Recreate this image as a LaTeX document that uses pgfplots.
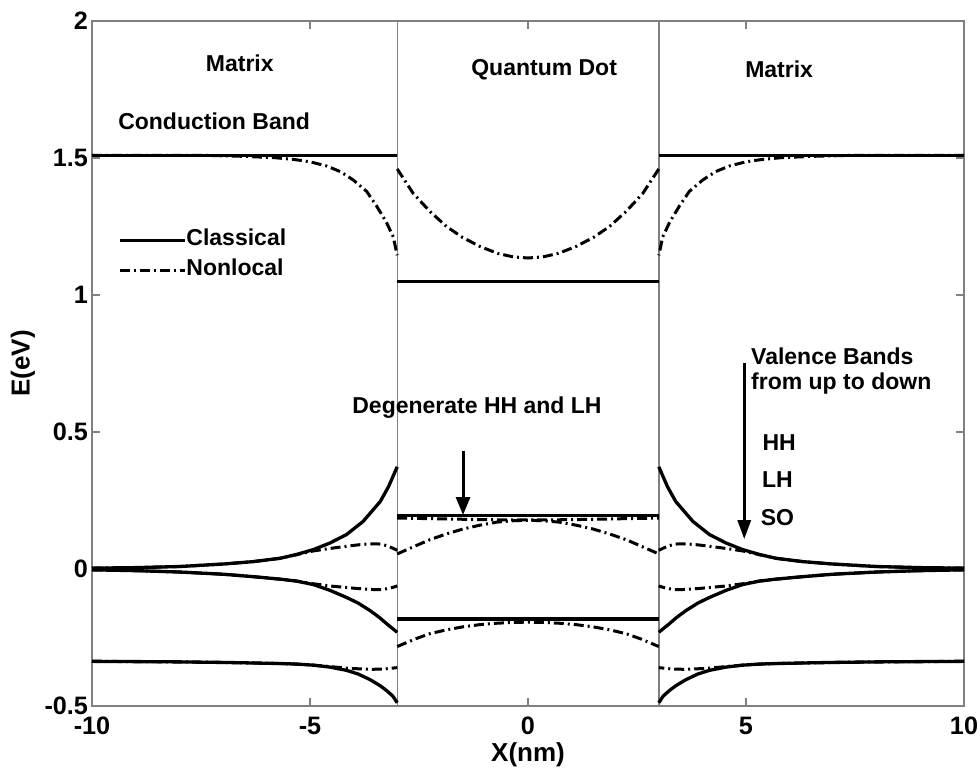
\documentclass[border=0pt]{standalone}
\usepackage{fontspec}
\setmainfont{Liberation Sans}
\usepackage{pgfplots}
\pgfplotsset{compat=1.18}
\usetikzlibrary{arrows.meta}

\pgfplotsset{
  classical/.style={black, line width=1.65pt, line join=round},
  nonlocal/.style={black, line width=1.5pt, dash pattern=on 5pt off 2pt on 1pt off 2pt},
}
\newcommand{\lbl}{\bfseries\fontsize{11.5}{13}\selectfont}

\begin{document}
\begin{tikzpicture}
\useasboundingbox (-46pt,-32.5pt) rectangle (443.5pt,353pt);
\begin{axis}[
  scale only axis, width=436pt, height=342.5pt,
  xmin=-10, xmax=10, ymin=-0.5, ymax=2,
  xtick={-10,-5,0,5,10}, ytick={-0.5,0,0.5,1,1.5,2},
  tick align=inside, major tick length=4pt,
  axis line style={draw=gray, line width=0.7pt},
  tick style={draw=gray, line width=0.6pt},
  ticklabel style={font=\bfseries\fontsize{12.6}{14}\selectfont},
  /pgf/number format/assume math mode=true,
  xticklabel style={yshift=-2pt},
  yticklabel style={xshift=1.5pt},
  xlabel={X(nm)}, ylabel={E(eV)},
  label style={font=\bfseries\fontsize{13}{15}\selectfont},
  xlabel style={at={(axis description cs:0.5,-0.0715)}, anchor=center},
  ylabel style={at={(axis description cs:-0.0791,0.5)}, anchor=center},
  clip=false,
  legend style={draw=none, fill=none, at={(axis cs:-9.40,1.145)}, anchor=west,
    inner sep=0pt, outer sep=0pt, row sep=3pt,
    font=\lbl, nodes={inner sep=0pt, text height=8.5pt, text depth=3.5pt},
    /tikz/every even column/.append style={column sep=1.5pt}},
  legend cell align=left,
  legend image code/.code={\draw[#1] (0pt,0pt) -- (32.5pt,0pt);},
]
\addlegendimage{classical}
\addlegendentry{Classical}
\addlegendimage{nonlocal}
\addlegendentry{Nonlocal}

% region boundaries of the dot
\addplot[forget plot, draw=gray, line width=0.7pt] coordinates {(-3,-0.5) (-3,2)};
\addplot[forget plot, draw=gray, line width=0.7pt] coordinates {(3,-0.5) (3,2)};

% ---------- classical model ----------
% conduction band
\addplot[forget plot, classical] coordinates {(-10,1.51) (-3,1.51)};
\addplot[forget plot, classical] coordinates {(-3,1.05) (3,1.05)};
\addplot[forget plot, classical] coordinates {(3,1.51) (10,1.51)};
% valence bands inside the dot
\addplot[forget plot, classical] coordinates {(-3,0.195) (3,0.195)};
\addplot[forget plot, classical] coordinates {(-3,-0.183) (3,-0.183)};
% valence bands in the left matrix
\addplot[forget plot, classical] coordinates {
  (-10,0.003) (-9,0.005) (-8,0.009) (-7,0.018) (-6.3,0.027) (-5.69,0.039)
  (-5.31,0.053) (-4.92,0.071) (-4.54,0.095) (-4.16,0.126) (-3.78,0.174)
  (-3.39,0.246) (-3.2,0.300) (-3.0,0.373)};
\addplot[forget plot, classical] coordinates {
  (-10,-0.003) (-9,-0.006) (-8,-0.011) (-7,-0.019) (-6.3,-0.028) (-5.69,-0.037)
  (-5.31,-0.044) (-4.92,-0.057) (-4.54,-0.078) (-4.16,-0.104) (-3.9,-0.124)
  (-3.62,-0.152) (-3.4,-0.178) (-3.24,-0.200) (-3.0,-0.231)};
\addplot[forget plot, classical] coordinates {
  (-10,-0.337) (-8,-0.339) (-7,-0.341) (-6.3,-0.343) (-5.69,-0.345)
  (-5.31,-0.347) (-4.92,-0.351) (-4.54,-0.358) (-4.16,-0.370) (-3.9,-0.383)
  (-3.62,-0.404) (-3.4,-0.425) (-3.24,-0.444) (-3.1,-0.464) (-3.0,-0.488)};
% valence bands in the right matrix
\addplot[forget plot, classical] coordinates {
  (10,0.003) (9,0.005) (8,0.009) (7,0.018) (6.3,0.027) (5.69,0.039)
  (5.31,0.053) (4.92,0.071) (4.54,0.095) (4.16,0.126) (3.78,0.174)
  (3.39,0.246) (3.2,0.300) (3.0,0.373)};
\addplot[forget plot, classical] coordinates {
  (10,-0.003) (9,-0.006) (8,-0.011) (7,-0.019) (6.3,-0.028) (5.69,-0.037)
  (5.31,-0.044) (4.92,-0.057) (4.54,-0.078) (4.16,-0.104) (3.9,-0.124)
  (3.62,-0.152) (3.4,-0.178) (3.24,-0.200) (3.0,-0.231)};
\addplot[forget plot, classical] coordinates {
  (10,-0.337) (8,-0.339) (7,-0.341) (6.3,-0.343) (5.69,-0.345)
  (5.31,-0.347) (4.92,-0.351) (4.54,-0.358) (4.16,-0.370) (3.9,-0.383)
  (3.62,-0.404) (3.4,-0.425) (3.24,-0.444) (3.1,-0.464) (3.0,-0.488)};

% ---------- nonlocal model ----------
% conduction band
\addplot[forget plot, nonlocal] coordinates {
  (-10,1.510) (-7.5,1.510) (-6.5,1.506) (-5.8,1.501) (-5.38,1.495) (-5.0,1.486)
  (-4.62,1.471) (-4.3,1.450) (-4.01,1.420) (-3.7,1.378) (-3.47,1.324)
  (-3.25,1.266) (-3.09,1.212) (-3.0,1.145)};
\addplot[forget plot, nonlocal] coordinates {
  (-3,1.460) (-2.63,1.370) (-2.25,1.305) (-1.87,1.250) (-1.5,1.210) (-1.1,1.177)
  (-0.7,1.152) (-0.34,1.139) (0,1.135) (0.34,1.139) (0.7,1.152) (1.1,1.177)
  (1.5,1.210) (1.87,1.250) (2.25,1.305) (2.63,1.370) (3,1.460)};
\addplot[forget plot, nonlocal] coordinates {
  (10,1.510) (7.5,1.510) (6.5,1.506) (5.8,1.501) (5.38,1.495) (5.0,1.486)
  (4.62,1.471) (4.3,1.450) (4.01,1.420) (3.7,1.378) (3.47,1.324)
  (3.25,1.266) (3.09,1.212) (3.0,1.145)};
% valence bands inside the dot
\addplot[forget plot, nonlocal] coordinates {
  (-3,0.186) (-2,0.183) (-1,0.180) (0,0.179) (1,0.180) (2,0.183) (3,0.186)};
\addplot[forget plot, nonlocal] coordinates {
  (-3,0.055) (-2.6,0.083) (-2.25,0.107) (-1.87,0.128) (-1.49,0.146) (-1.1,0.160)
  (-0.72,0.171) (-0.35,0.176) (0,0.178) (0.35,0.176) (0.72,0.171) (1.1,0.160)
  (1.49,0.146) (1.87,0.128) (2.25,0.107) (2.6,0.083) (3,0.055)};
\addplot[forget plot, nonlocal] coordinates {
  (-3,-0.283) (-2.6,-0.256) (-2.25,-0.236) (-1.87,-0.222) (-1.49,-0.211)
  (-1.1,-0.203) (-0.72,-0.198) (-0.35,-0.195) (0,-0.194) (0.35,-0.195)
  (0.72,-0.198) (1.1,-0.203) (1.49,-0.211) (1.87,-0.222) (2.25,-0.236)
  (2.6,-0.256) (3,-0.283)};
% valence bands in the left matrix
\addplot[forget plot, nonlocal] coordinates {
  (-10,0.003) (-9,0.005) (-8,0.009) (-7,0.018) (-6.3,0.027) (-5.69,0.039)
  (-5.31,0.052) (-4.92,0.066) (-4.54,0.075) (-4.16,0.083) (-3.9,0.088)
  (-3.62,0.092) (-3.45,0.092) (-3.32,0.089) (-3.2,0.083) (-3.09,0.075) (-3.0,0.068)};
\addplot[forget plot, nonlocal] coordinates {
  (-10,-0.003) (-9,-0.006) (-8,-0.011) (-7,-0.019) (-6.3,-0.028) (-5.69,-0.037)
  (-5.31,-0.044) (-4.92,-0.054) (-4.54,-0.062) (-4.2,-0.067) (-3.93,-0.071)
  (-3.55,-0.075) (-3.35,-0.075) (-3.24,-0.072) (-3.1,-0.067) (-3.0,-0.062)};
\addplot[forget plot, nonlocal] coordinates {
  (-10,-0.337) (-8,-0.339) (-7,-0.341) (-6.3,-0.343) (-5.69,-0.345)
  (-5.31,-0.347) (-4.92,-0.351) (-4.54,-0.356) (-4.16,-0.362) (-3.8,-0.365)
  (-3.55,-0.366) (-3.3,-0.365) (-3.0,-0.360)};
% valence bands in the right matrix
\addplot[forget plot, nonlocal] coordinates {
  (10,0.003) (9,0.005) (8,0.009) (7,0.018) (6.3,0.027) (5.69,0.039)
  (5.31,0.052) (4.92,0.066) (4.54,0.075) (4.16,0.083) (3.9,0.088)
  (3.62,0.092) (3.45,0.092) (3.32,0.089) (3.2,0.083) (3.09,0.075) (3.0,0.068)};
\addplot[forget plot, nonlocal] coordinates {
  (10,-0.003) (9,-0.006) (8,-0.011) (7,-0.019) (6.3,-0.028) (5.69,-0.037)
  (5.31,-0.044) (4.92,-0.054) (4.54,-0.062) (4.2,-0.067) (3.93,-0.071)
  (3.55,-0.075) (3.35,-0.075) (3.24,-0.072) (3.1,-0.067) (3.0,-0.062)};
\addplot[forget plot, nonlocal] coordinates {
  (10,-0.337) (8,-0.339) (7,-0.341) (6.3,-0.343) (5.69,-0.345)
  (5.31,-0.347) (4.92,-0.351) (4.54,-0.356) (4.16,-0.362) (3.8,-0.365)
  (3.55,-0.366) (3.3,-0.365) (3.0,-0.360)};

% ---------- annotations ----------
\node[font=\lbl] at (axis cs:-6.61,1.844) {Matrix};
\node[font=\lbl] at (axis cs:0.37,1.822) {Quantum Dot};
\node[font=\lbl] at (axis cs:5.76,1.822) {Matrix};
\node[font=\lbl] at (axis cs:-7.20,1.634) {Conduction Band};
\node[font=\lbl] at (axis cs:-1.17,0.590) {Degenerate HH and LH};
\draw[-{Triangle[width=7pt,length=9pt]}, line width=1.5pt]
  (axis cs:-1.49,0.431) -- (axis cs:-1.49,0.197);
\node[font=\lbl, anchor=west, inner sep=0pt] at (axis cs:5.11,0.775) {Valence Bands};
\node[font=\lbl, anchor=west, inner sep=0pt] at (axis cs:5.11,0.675) {from up to down};
\draw[-{Triangle[width=6.5pt,length=9.5pt]}, line width=1.5pt]
  (axis cs:4.96,0.751) -- (axis cs:4.96,0.109);
\node[font=\lbl] at (axis cs:5.76,0.460) {HH};
\node[font=\lbl] at (axis cs:5.72,0.327) {LH};
\node[font=\lbl] at (axis cs:5.72,0.186) {SO};
\end{axis}
\end{tikzpicture}
\end{document}
